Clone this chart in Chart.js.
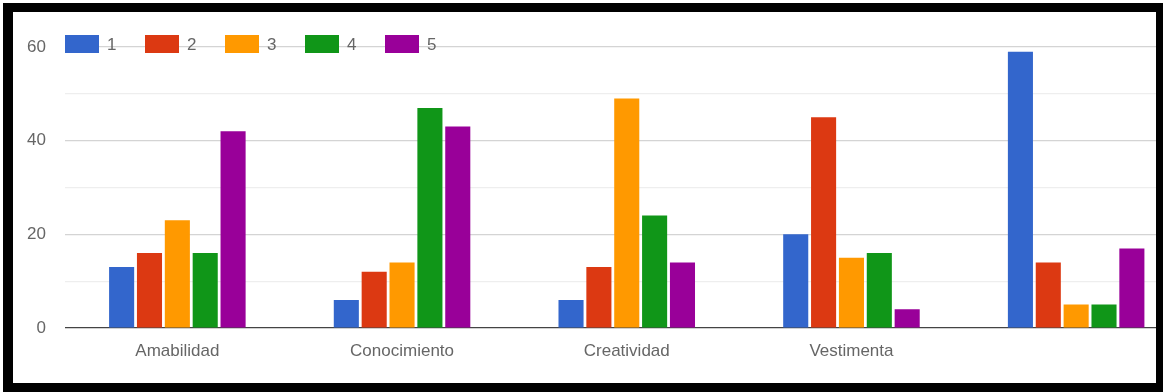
<!DOCTYPE html>
<html>
<head>
<meta charset="utf-8">
<script src="https://cdn.jsdelivr.net/npm/chart.js@4"></script>
<style>
  html, body { margin: 0; padding: 0; background: #fff; }
  #frame { position: absolute; left: 3px; top: 3px; width: 1160px; height: 389px; background: #000; }
  #inner { position: absolute; left: 10px; top: 9px; width: 1143px; height: 371px; background: #fff; overflow: hidden; }
  #chart { position: absolute; left: -13px; top: -12px; }
</style>
</head>
<body>
<div id="frame"><div id="inner"><canvas id="chart" width="1200" height="392"></canvas></div></div>
<script>
// categorias (la quinta no tiene etiqueta visible)
const categories = ['Amabilidad', 'Conocimiento', 'Creatividad', 'Vestimenta', ''];
const seriesNames = ['1', '2', '3', '4', '5'];
const serie1 = [13, 6, 6, 20, 59];
const serie2 = [16, 12, 13, 45, 14];
const serie3 = [23, 14, 49, 15, 5];
const serie4 = [16, 47, 24, 16, 5];
const serie5 = [42, 43, 14, 4, 17];
const yTicks = [0, 20, 40, 60];

const colors = ['#3366cc', '#dc3912', '#ff9900', '#109618', '#990099'];
const allSeries = [serie1, serie2, serie3, serie4, serie5];

// leyenda arriba a la izquierda, estilo Google Charts
const topLegend = {
  id: 'topLegend',
  afterDraw(chart) {
    const ctx = chart.ctx;
    const left = chart.chartArea.left;
    ctx.save();
    ctx.font = '17px "Liberation Sans", Arial, sans-serif';
    ctx.textBaseline = 'middle';
    chart.data.datasets.forEach((ds, i) => {
      const x = left + i * 80;
      ctx.fillStyle = ds.backgroundColor;
      ctx.fillRect(x, 35, 34, 18);
      ctx.fillStyle = '#666';
      ctx.fillText(ds.label, x + 42, 45);
    });
    ctx.restore();
  }
};

new Chart(document.getElementById('chart'), {
  type: 'bar',
  data: {
    labels: categories,
    datasets: allSeries.map((data, i) => ({
      label: seriesNames[i],
      data,
      backgroundColor: colors[i],
      borderWidth: 0,
      barPercentage: 0.9,
      categoryPercentage: 0.62
    }))
  },
  options: {
    responsive: false,
    animation: false,
    layout: { padding: { top: 47, left: 0, right: 11.5, bottom: 0 } },
    plugins: {
      legend: { display: false },
      tooltip: { enabled: false }
    },
    scales: {
      x: {
        grid: { display: false },
        border: { display: false },
        ticks: {
          color: '#666',
          padding: 5,
          maxRotation: 0,
          font: { size: 17, family: '"Liberation Sans", Arial, sans-serif' }
        },
        afterFit(scale) { scale.height = 64; }
      },
      y: {
        min: 0,
        max: 60,
        border: { display: false },
        grid: {
          drawTicks: false,
          lineWidth: 1.2,
          color: (c) => {
            const v = c.tick ? c.tick.value : 0;
            if (v === 0) return '#444';
            return yTicks.includes(v) ? '#d4d4d4' : '#eeeeee';
          }
        },
        ticks: {
          stepSize: 10,
          padding: 19,
          color: '#666',
          font: { size: 17, family: '"Liberation Sans", Arial, sans-serif' },
          callback: (v) => yTicks.includes(v) ? v : ''
        },
        afterFit(scale) { scale.width = 65; }
      }
    }
  },
  plugins: [topLegend]
});
</script>
</body>
</html>
